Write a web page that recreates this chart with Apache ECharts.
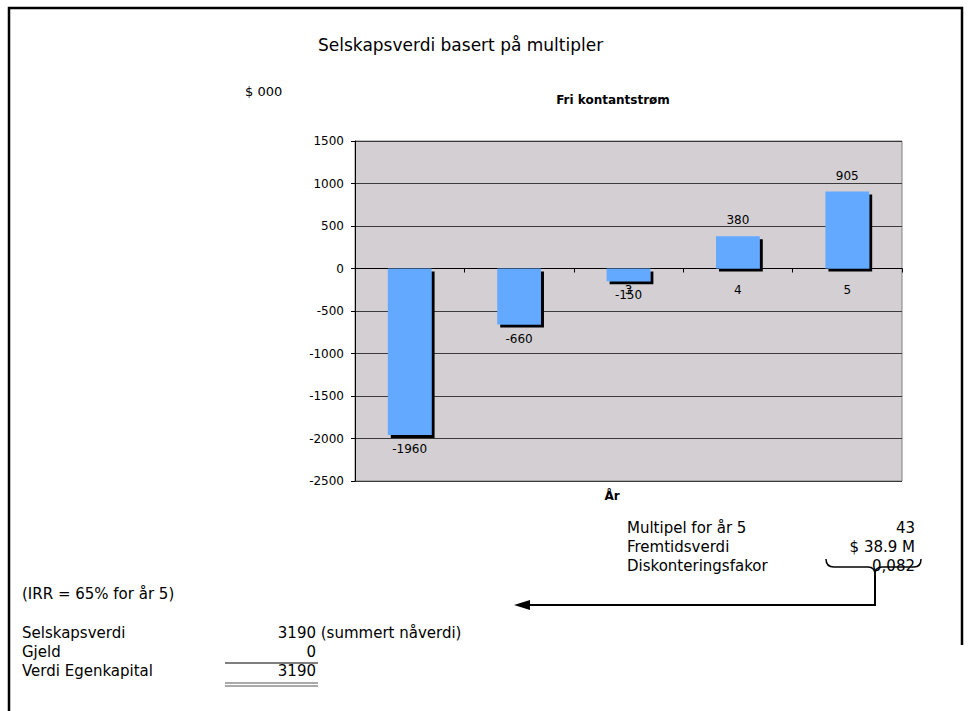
<!DOCTYPE html>
<html>
<head>
<meta charset="utf-8">
<script src="https://cdn.jsdelivr.net/npm/echarts@6/dist/echarts.min.js"></script>
<style>
  html, body { margin: 0; padding: 0; background: #ffffff; }
  #chart { width: 969px; height: 711px; }
</style>
</head>
<body>
<div id="chart"></div>
<script>
// Fri kontantstrøm per år ($ 000)
var years = ['1', '2', '3', '4', '5'];
var cashFlow = [-1960, -660, -150, 380, 905];
var yTicks = { min: -2500, max: 1500, step: 500 };

// Terminal value block
var multipleRows = [
  ['Multipel for år 5', '43'],
  ['Fremtidsverdi', '$ 38.9 M'],
  ['Diskonteringsfakor', '0,082']
];
var irrText = '(IRR = 65% for år 5)';
var valuationRows = [
  ['Selskapsverdi', '3190', ' (summert nåverdi)'],
  ['Gjeld', '0', ''],
  ['Verdi Egenkapital', '3190', '']
];

var FONT = '"DejaVu Sans", Verdana, sans-serif';
var chart = echarts.init(document.getElementById('chart'), null, { renderer: 'svg' });

// plot box
var PLOT = { left: 355, top: 141, width: 547, height: 340 };
// x axis sits on the zero line of the value axis
var zeroOffset = -PLOT.height * (0 - yTicks.min) / (yTicks.max - yTicks.min);

function txt(x, y, s, opts) {
  opts = opts || {};
  return {
    type: 'text', x: x, y: y, silent: true,
    style: {
      text: s, fill: '#000', font: (opts.weight || 'normal') + ' ' + (opts.size || 15) + 'px ' + FONT,
      textAlign: opts.align || 'left', textVerticalAlign: 'middle'
    }
  };
}
function seg(x1, y1, x2, y2, w, c) {
  return { type: 'line', silent: true, shape: { x1: x1, y1: y1, x2: x2, y2: y2 }, style: { stroke: c || '#000', lineWidth: w || 1 } };
}
function curve(x1, y1, cx, cy, x2, y2) {
  return { type: 'bezierCurve', silent: true, shape: { x1: x1, y1: y1, cpx1: cx, cpy1: cy, x2: x2, y2: y2 }, style: { stroke: '#000', lineWidth: 1.5, fill: null } };
}

var graphics = [];
// page frame
graphics.push({
  type: 'polyline', silent: true,
  shape: { points: [[9, 711], [9, 8], [962, 8], [962, 645]] },
  style: { stroke: '#000', lineWidth: 2.5, fill: null }
});
graphics.push(txt(318, 45, 'Selskapsverdi basert på multipler', { size: 17 }));
graphics.push(txt(245, 91, '$ 000', { size: 13 }));
graphics.push(txt(613, 100, 'Fri kontantstrøm', { size: 12, weight: 'bold', align: 'center' }));
graphics.push(txt(612, 496, 'År', { size: 12, weight: 'bold', align: 'center' }));

// multiple / terminal value rows
var rowY0 = 528, rowStep = 19;
multipleRows.forEach(function (r, i) {
  graphics.push(txt(627, rowY0 + i * rowStep, r[0]));
  graphics.push(txt(915, rowY0 + i * rowStep, r[1], { align: 'right' }));
});
// brace under the future value, leading to the arrow
graphics.push(curve(826, 559, 826, 567, 834, 567));
graphics.push(seg(834, 567, 868, 567, 1.5));
graphics.push(curve(868, 567, 875, 567, 875, 575));
graphics.push(curve(875, 575, 875, 567, 882, 567));
graphics.push(seg(882, 567, 914, 567, 1.5));
graphics.push(curve(914, 567, 921, 567, 921, 559));
graphics.push({
  type: 'polyline', silent: true,
  shape: { points: [[875, 575], [875, 605], [528, 605]] },
  style: { stroke: '#000', lineWidth: 2, fill: null }
});
graphics.push({
  type: 'polygon', silent: true,
  shape: { points: [[514, 605], [530, 600], [530, 610]] },
  style: { fill: '#000' }
});

graphics.push(txt(22, 594, irrText));
var vY0 = 633;
valuationRows.forEach(function (r, i) {
  graphics.push(txt(22, vY0 + i * rowStep, r[0]));
  graphics.push(txt(316, vY0 + i * rowStep, r[1], { align: 'right' }));
  if (r[2]) graphics.push(txt(316, vY0 + i * rowStep, r[2]));
});
// single rule above the total, double rule below it
graphics.push(seg(225, 663, 318, 663, 1, '#000'));
graphics.push(seg(225, 683, 318, 683, 1, '#555'));
graphics.push(seg(225, 686, 318, 686, 1, '#555'));

chart.setOption({
  animation: false,
  backgroundColor: '#ffffff',
  grid: {
    left: PLOT.left, top: PLOT.top, width: PLOT.width, height: PLOT.height,
    show: true, backgroundColor: '#d3cfd3', borderColor: '#808080', borderWidth: 1
  },
  xAxis: {
    type: 'category',
    data: years,
    position: 'bottom',
    offset: zeroOffset,
    axisLine: { onZero: false, lineStyle: { color: '#000', width: 1 } },
    axisTick: { show: true, length: 4, inside: false, lineStyle: { color: '#000' } },
    axisLabel: { margin: 15, fontFamily: FONT, fontSize: 12, color: '#000' },
    splitLine: { show: false }
  },
  yAxis: {
    type: 'value',
    min: yTicks.min, max: yTicks.max, interval: yTicks.step,
    axisLine: { show: true, lineStyle: { color: '#000', width: 1 } },
    axisTick: { show: true, length: 4, lineStyle: { color: '#000' } },
    axisLabel: {
      margin: 11, fontFamily: FONT, fontSize: 12, color: '#000',
      formatter: function (v) { return String(v); }
    },
    splitLine: { show: true, lineStyle: { color: '#3a3a3a', width: 1 } }
  },
  series: [{
    type: 'bar',
    barWidth: '40%',
    data: cashFlow.map(function (v) {
      return { value: v, label: { position: v < 0 ? 'bottom' : 'top', distance: v < 0 ? 8 : 10 } };
    }),
    itemStyle: {
      color: '#63a9ff',
      shadowColor: '#000', shadowBlur: 0, shadowOffsetX: 3, shadowOffsetY: 3
    },
    label: {
      show: true,
      fontFamily: FONT, fontSize: 12, color: '#000'
    }
  }],
  graphic: graphics
});
</script>
</body>
</html>
